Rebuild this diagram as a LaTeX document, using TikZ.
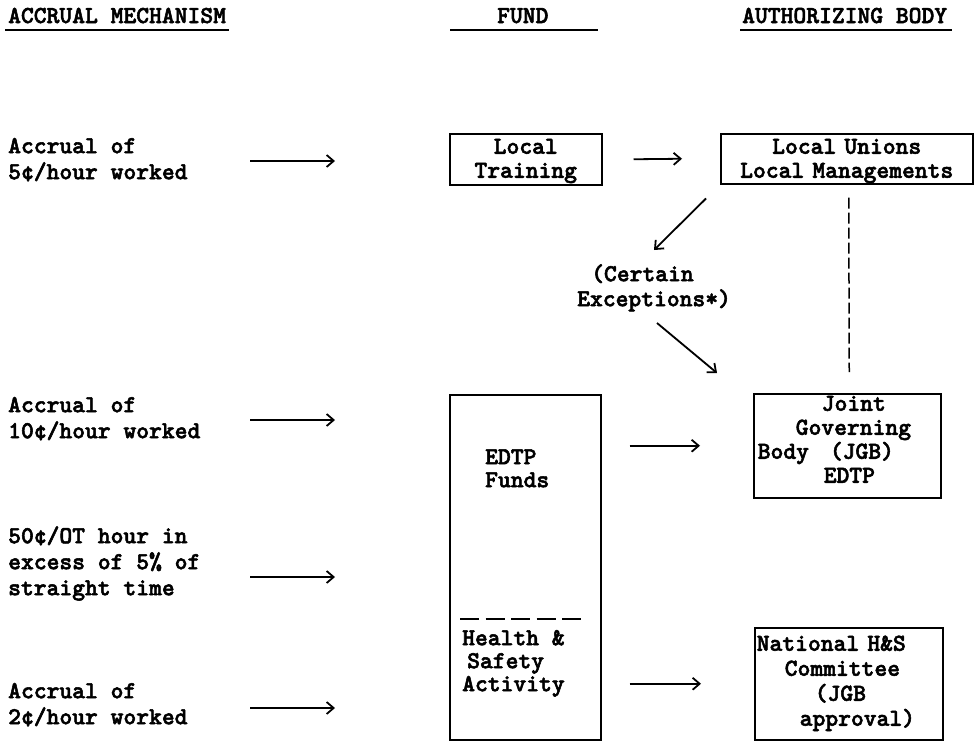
\documentclass[tikz,border=0pt]{standalone}
\usepackage{fontspec}
\newfontfamily\tw{lmmonolt10-bold.otf}[FakeBold=2.2]
\usetikzlibrary{arrows.meta}
\newcommand\fs[1]{\fontsize{24.4}{#1}\selectfont\tw\spaceskip=12.8pt\relax\xspaceskip=12.8pt\relax}
\newcommand\tst[1]{\rule{0pt}{#1pt}}
\newcommand\dst[1]{\rule[-#1pt]{0pt}{#1pt}}
\begin{document}
\begin{tikzpicture}[x=1pt,y=-1pt,
  hd/.style={font=\fs{25}, inner sep=0pt, anchor=base west},
  lt/.style={font=\fs{26}, inner sep=0pt, anchor=north west, align=left},
  boxn/.style={draw, line width=1.5pt, inner xsep=4pt, inner ysep=0pt, anchor=north west},
  arr/.style={line width=1.8pt, -{Straight Barb[length=7pt,width=12pt]}},
  uline/.style={line width=1.6pt},
  vdash/.style={line width=1.5pt, dash pattern=on 11pt off 4pt},
  hdash/.style={line width=1.8pt, dash pattern=on 19pt off 6.5pt}]
\useasboundingbox (0,0) rectangle (974,742);

% headers
\node[hd] (h1) at (8,23) {ACCRUAL MECHANISM};
\node[hd] (h2) at (497,23) {FUND};
\node[hd] (h3) at (742,23) {AUTHORIZING BODY};
\draw[uline] ([shift={(-3pt,-7pt)}]h1.base west) -- ([shift={(3pt,-7pt)}]h1.base east);
\draw[uline] ([shift={(-47pt,-7pt)}]h2.base west) -- ([shift={(49pt,-7pt)}]h2.base east);
\draw[uline] ([shift={(-2pt,-7pt)}]h3.base west) -- ([shift={(5pt,-7pt)}]h3.base east);

% accrual mechanisms
\node[lt] (r1) at (8,134) {\tst{19}Accrual of\\5¢/hour worked};
\node[lt] (r2) at (8,393) {\tst{19}Accrual of\\10¢/hour worked};
\node[lt] (r3) at (8,524) {\tst{19}50¢/OT hour in\\excess of 5\% of\\straight time};
\node[lt] (r4) at (8,679) {\tst{19}Accrual of\\2¢/hour worked};

\coordinate (r1a) at (250,161); \coordinate (r1b) at (335,161);
\coordinate (r2a) at (250,420); \coordinate (r2b) at (335,420);
\coordinate (r3a) at (250,577); \coordinate (r3b) at (335,577);
\coordinate (r4a) at (250,708); \coordinate (r4b) at (335,708);
\draw[arr] (r1a) -- (r1b);
\draw[arr] (r2a) -- (r2b);
\draw[arr] (r3a) -- (r3b);
\draw[arr] (r4a) -- (r4b);

% funds
\node[boxn, text width=144pt, align=center, font=\fs{24}] (lt) at (449,133)
  {\tst{20}Local\\Training\dst{7}};
\node[draw, line width=1.5pt, minimum width=151pt, minimum height=345pt, inner sep=0pt,
  anchor=north west] (fund) at (449,394) {};
\node[lt, font=\fs{23}] (edtp) at (485,445) {\tst{19}EDTP\\Funds};
\draw[hdash] ([shift={(11pt,-225pt)}]fund.north west) -- ([shift={(133pt,-225pt)}]fund.north west);
\node[lt, font=\fs{23}] (hs) at (462,626) {\tst{19}Health \&\\\hspace*{5pt}Safety\\Activity};

% authorizing bodies
\node[boxn, text width=244pt, align=center, font=\fs{24}] (lu) at (720,133)
  {\tst{20}Local Unions\\Local Managements\dst{6}};
\node[boxn, text width=179pt, align=left, font=\fs{24}] (jgb) at (753,393)
  {\tst{17}\hspace*{64pt}Joint\\\hspace*{38pt}Governing\\Body\ \hspace{12.8pt}(JGB)\\\hspace*{66pt}EDTP\dst{15}};
\node[boxn, inner xsep=2pt, text width=184pt, align=left, font=\fs{25}] (nat) at (754,627)
  {\tst{23}National H\&S\\\hspace*{28pt}Committee\\\hspace*{58pt}(JGB\\\hspace*{43pt}approval)\dst{14}};

\node[lt, font=\fs{25}] (exc) at (577,262) {\tst{19}\hspace*{14pt}(Certain\\Exceptions*)};

% connectors
\draw[arr] ([xshift=31pt]lt.east) -- ([xshift=-38pt]lu.west);
\draw[arr] ([shift={(-14pt,-14pt)}]lu.south west) -- ([shift={(77pt,12pt)}]exc.north west);
\draw[arr] ([shift={(80pt,-61pt)}]exc.north west) -- ([shift={(-36pt,20pt)}]jgb.north west);
\draw[vdash] ([shift={(2pt,-13pt)}]lu.south) -- ([shift={(2pt,21pt)}]jgb.north);
\draw[arr] ([xshift=28pt]fund.east |- jgb.west) -- ([xshift=-53pt]jgb.west);
\draw[arr] ([xshift=28pt]fund.east |- nat.west) -- ([xshift=-53pt]nat.west);
\end{tikzpicture}
\end{document}
